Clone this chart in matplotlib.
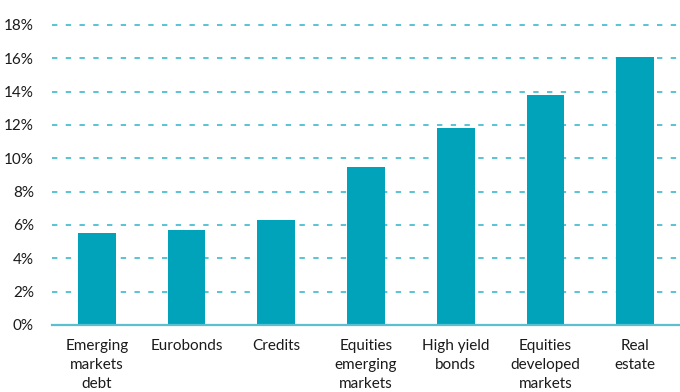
import matplotlib
matplotlib.use("Agg")
import matplotlib.pyplot as plt
from matplotlib.ticker import FuncFormatter

BAR = "#00A3B9"
GRID = "#2BB3C9"
AXIS = "#5BBFD0"
TEXT = "#1A1A1A"

categories = [
    "Emerging\nmarkets\ndebt", "Eurobonds", "Credits", "Equities\nemerging\nmarkets",
    "High yield\nbonds", "Equities\ndeveloped\nmarkets", "Real\nestate",
]
returns_pct = [5.5, 5.7, 6.3, 9.5, 11.8, 13.8, 16.1]
yticks = [0, 2, 4, 6, 8, 10, 12, 14, 16, 18]

plt.rcParams["font.family"] = ["Lato", "DejaVu Sans"]

fig = plt.figure(figsize=(6.8, 3.92), dpi=100)
ax = fig.add_axes([52 / 680, 1 - 325 / 392, 628 / 680, 304 / 392])

x = range(len(categories))
ax.bar(x, returns_pct, width=0.42, color=BAR, zorder=3)

ax.set_xlim(-0.5, len(categories) - 0.5)
ax.set_ylim(0, 18 * 304 / 300)
ax.set_yticks(yticks)
ax.yaxis.set_major_formatter(FuncFormatter(lambda v, _: f"{v:.0f}%"))
ax.set_xticks(list(x))
ax.set_xticklabels(categories, linespacing=1.45, va="top")

ax.grid(axis="y", color=GRID, linestyle=(0, (3.5, 5.5)), linewidth=1.1, zorder=0)
ax.tick_params(axis="both", length=0, labelsize=11, colors=TEXT)
ax.tick_params(axis="y", pad=13)
ax.tick_params(axis="x", pad=10)

for side in ("top", "right", "left"):
    ax.spines[side].set_visible(False)
ax.spines["bottom"].set_color(AXIS)
ax.spines["bottom"].set_linewidth(1.6)
ax.spines["bottom"].set_zorder(4)

fig.savefig("out.png", dpi=100)
